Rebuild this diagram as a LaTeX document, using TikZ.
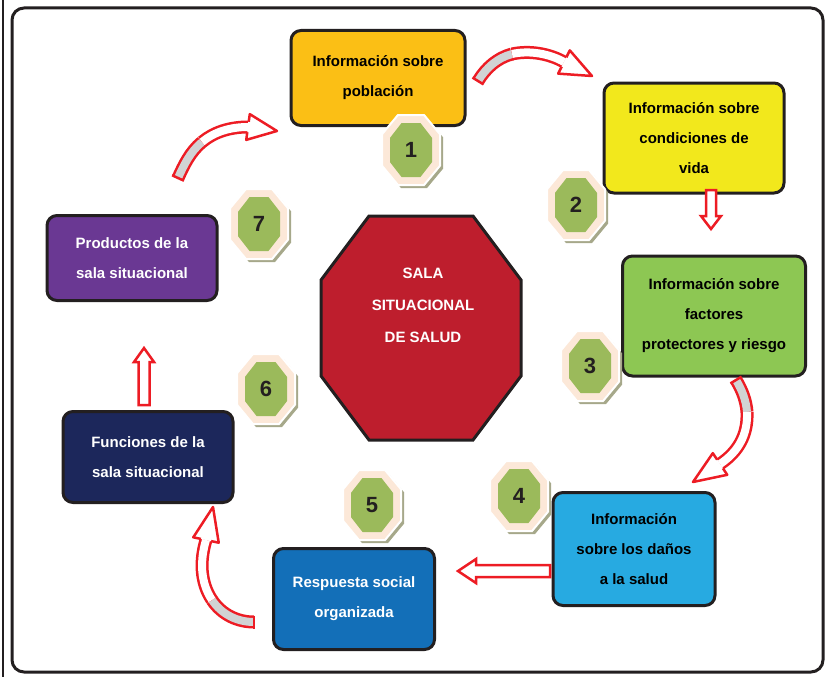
\documentclass[tikz,border=0pt]{standalone}
\usepackage{fontspec}
\setmainfont{Liberation Sans}
\usetikzlibrary{calc}

\definecolor{outline}{HTML}{231F20}
\definecolor{boxorange}{HTML}{FBBF15}
\definecolor{boxyellow}{HTML}{F2E81C}
\definecolor{boxgreen}{HTML}{8DC753}
\definecolor{boxcyan}{HTML}{27AAE1}
\definecolor{boxblue}{HTML}{136FB8}
\definecolor{boxnavy}{HTML}{1C275B}
\definecolor{boxpurple}{HTML}{6A3893}
\definecolor{salared}{HTML}{BE1E2D}
\definecolor{arrowred}{HTML}{ED1C24}
\definecolor{arrowgrey}{HTML}{D1D3D4}
\definecolor{badgepeach}{HTML}{FCE8D8}
\definecolor{badgegreen}{HTML}{9BBA5B}
\definecolor{badgeshadow}{HTML}{A6A88A}

% octagon path, half width and half height
\newcommand{\octo}[2]{(-0.45*#1,-#2) -- (0.45*#1,-#2) -- (#1,-0.45*#2) -- (#1,0.45*#2) -- (0.45*#1,#2) -- (-0.45*#1,#2) -- (-#1,0.45*#2) -- (-#1,-0.45*#2) -- cycle}

% straight block arrow: start, end, shaft half width, head half width, head length
\newcommand{\blockarrow}[5]{%
  \coordinate (h) at ($(#2)!#5!(#1)$);
  \filldraw[blockarrow] ($(#1)!#3!90:(#2)$) -- ($(h)!#3!-90:(#1)$) -- ($(h)!#4!-90:(#1)$) -- (#2) -- ($(h)!#4!90:(#1)$) -- ($(h)!#3!90:(#1)$) -- ($(#1)!#3!-90:(#2)$) -- cycle;
}

% bent arrow: tail, c1, c2, mid, c3, c4, head base, tip
\newcommand{\bentarrow}[8]{%
  \draw[band, double=arrowgrey] (#1) .. controls (#2) and (#3) .. (#4);
  \draw[band] (#4) .. controls (#5) and (#6) .. (#7);
  \draw[arrowred, line width=2.5pt] ($(#1)!6.5pt!90:(#2)$) -- ($(#1)!6.5pt!-90:(#2)$);
  \filldraw[fill=white, draw=arrowred, line width=2.5pt, line join=round] ($(#7)!5.25pt!90:(#8)$) -- ($(#7)!13pt!90:(#8)$) -- (#8) -- ($(#7)!13pt!-90:(#8)$) -- ($(#7)!5.25pt!-90:(#8)$);
}

\begin{document}
\begin{tikzpicture}[x=1pt, y=-1pt,
    box/.style={draw=outline, line width=3pt, rounded corners=10pt, align=center, inner sep=0pt, font=\fontsize{15}{30}\selectfont\bfseries},
    salatext/.style={text=white, align=center, font=\fontsize{15}{32}\selectfont\bfseries},
    numtext/.style={text=outline, font=\fontsize{22}{24}\selectfont\bfseries},
    blockarrow/.style={fill=white, draw=arrowred, line width=2.5pt, line join=miter},
    band/.style={draw=arrowred, line width=2.5pt, double=white, double distance=8pt},
    badge/.pic={
        \fill[badgeshadow] [shift={(3,3)}] \octo{29}{35};
        \filldraw[fill=badgepeach, draw=white, line width=2pt] \octo{29}{35};
        \fill[badgegreen] \octo{21}{27};
        \node[numtext] (-n) at (0,0) {#1};
    }]
            \useasboundingbox (0,0) rectangle (829,677);
            \draw[outline, line width=1.5pt] (3,0) -- (3,677);
            \draw[outline, line width=3pt, rounded corners=12pt] (12,8) rectangle (823,672);

            % centre
            \coordinate (S) at (421,328);
            \filldraw[fill=salared, draw=outline, line width=3pt] ($(S)+(-52,-112)$) -- ($(S)+(52,-112)$) -- ($(S)+(100,-48)$) -- ($(S)+(100,48)$) -- ($(S)+(52,112)$) -- ($(S)+(-52,112)$) -- ($(S)+(-100,48)$) -- ($(S)+(-100,-48)$) -- cycle;
            \node[salatext] (SL) at (423,305) {SALA\\SITUACIONAL\\DE SALUD};

            % boxes
            \node[box, fill=boxorange, minimum width=174, minimum height=95] (B1) at (378,78) {Información sobre\\población};
            \node[box, fill=boxyellow, minimum width=180, minimum height=110] (B2) at (694,138) {Información sobre\\condiciones de\\vida};
            \node[box, fill=boxgreen, minimum width=183, minimum height=120] (B3) at (714,316) {Información sobre\\factores\\protectores y riesgo};
            \node[box, fill=boxcyan, minimum width=162, minimum height=113] (B4) at (634,549) {Información\\sobre los daños\\a la salud};
            \node[box, fill=boxblue, text=white, minimum width=161, minimum height=101] (B5) at (354,599) {Respuesta social\\organizada};
            \node[box, fill=boxnavy, text=white, minimum width=170, minimum height=91] (B6) at (148,457) {Funciones de la\\sala situacional};
            \node[box, fill=boxpurple, text=white, minimum width=170, minimum height=85] (B7) at (132,258) {Productos de la\\sala situacional};

            % badges
            \pic (N1) at (411,150) {badge=1};
            \pic (N2) at (576,205) {badge=2};
            \pic (N3) at (590,366) {badge=3};
            \pic (N4) at (519,496) {badge=4};
            \pic (N5) at (372,505) {badge=5};
            \pic (N6) at (266,389) {badge=6};
            \pic (N7) at (259,224) {badge=7};

            % arrows
            \coordinate (a23s) at (711,190);
            \coordinate (a23e) at (711,229);
            \blockarrow{a23s}{a23e}{5pt}{10pt}{13pt}
            \coordinate (a45s) at (550,571);
            \coordinate (a45e) at (458,571);
            \blockarrow{a45s}{a45e}{6pt}{12pt}{18pt}
            \coordinate (a67s) at (144,405);
            \coordinate (a67e) at (144,348);
            \blockarrow{a67s}{a67e}{5.5pt}{10pt}{14pt}

            \coordinate (a12s) at (478,81);
            \coordinate (a12m) at (512,54);
            \coordinate (a12h) at (564,62);
            \coordinate (a12e) at (592,76);
            \bentarrow{a12s}{486,68}{497,58}{a12m}{530,50}{550,54}{a12h}{a12e}
            \coordinate (a34s) at (736,380);
            \coordinate (a34m) at (747,412);
            \coordinate (a34h) at (720,464);
            \coordinate (a34e) at (693,482);
            \bentarrow{a34s}{742,390}{746,400}{a34m}{748,435}{738,452}{a34h}{a34e}
            \coordinate (a56s) at (254,622);
            \coordinate (a56m) at (212,600);
            \coordinate (a56h) at (206,540);
            \coordinate (a56e) at (213,507);
            \bentarrow{a56s}{238,622}{222,615}{a56m}{200,582}{200,560}{a56h}{a56e}
            \coordinate (a71s) at (178,178);
            \coordinate (a71m) at (202,142);
            \coordinate (a71h) at (248,127);
            \coordinate (a71e) at (277,131);
            \bentarrow{a71s}{184,165}{190,152}{a71m}{214,132}{230,127}{a71h}{a71e}
        \end{tikzpicture}
\end{document}
